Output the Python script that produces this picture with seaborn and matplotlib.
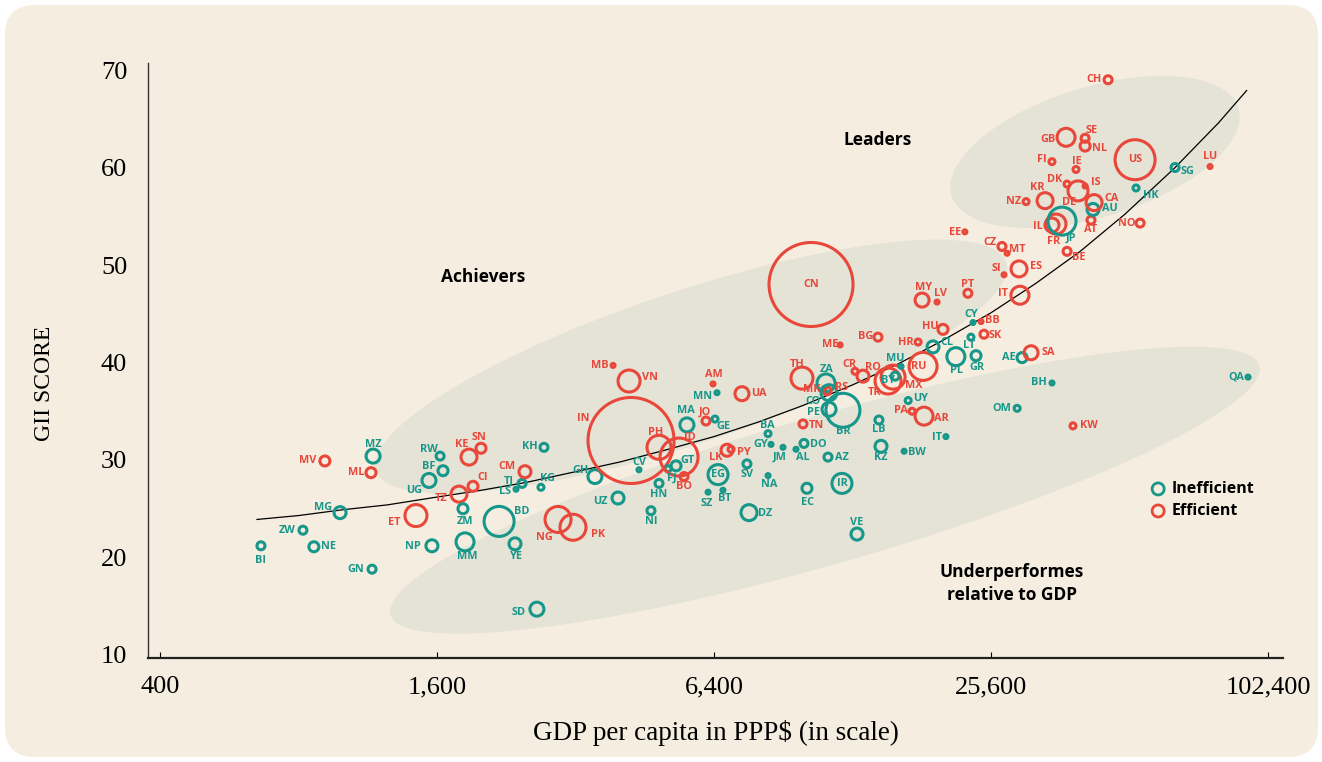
import numpy as np
import pandas as pd
import matplotlib
matplotlib.use("Agg")
import matplotlib.pyplot as plt
import seaborn as sns
from matplotlib.patches import FancyBboxPatch
from matplotlib.transforms import IdentityTransform

# ---- data: GDP per capita (PPP$), GII score, circle size, efficiency group ----
codes = ["BI", "ZW", "NE", "MV", "MG", "MZ", "ML", "GN", "ET", "UG", "RW", "BF", "NP", "TZ", "ZM",
         "MM", "KE", "CI", "SN", "BD", "YE", "LS", "TJ", "CM", "KG", "KH", "SD", "NG", "PK", "GH",
         "UZ", "MB", "VN", "IN", "CV", "NI", "PH", "HN", "FJ", "GT", "ID", "BO", "MA", "JO", "GE",
         "SZ", "AM", "MN", "EG", "BT", "LK", "PY", "UA", "SV", "DZ", "BA", "GY", "NA", "JM", "AL",
         "TH", "DO", "TN", "EC", "MK", "ZA", "RS", "CO", "PE", "AZ", "ME", "BR", "IR", "CR", "VE",
         "RO", "BG", "LB", "KZ", "TR", "MX", "BY", "MU", "BW", "UY", "PA", "HR", "MY", "RU", "AR",
         "CL", "LV", "HU", "IT", "PL", "EE", "PT", "LT", "CY", "GR", "BB", "SK", "CZ", "SI", "MT",
         "OM", "ES", "IT", "AE", "NZ", "SA", "KR", "BH", "IL", "FI", "FR", "JP", "GB", "DK", "BE",
         "KW", "IE", "DE", "IS", "SE", "NL", "AT", "AU", "CA", "CH", "US", "HK", "NO", "SG", "LU",
         "QA", "CN"]
gdp = [663, 818, 864, 913, 985, 1162, 1150, 1156, 1440, 1537, 1625, 1649, 1560, 1786, 1822,
       1841, 1878, 1916, 1994, 2183, 2364, 2376, 2449, 2485, 2692, 2733, 2638, 2932, 3160, 3527,
       3959, 3862, 4183, 4225, 4396, 4668, 4860, 4860, 5085, 5293, 5372, 5508, 5589, 6148, 6431,
       6212, 6368, 6497, 6530, 6693, 6831, 6970, 7361, 7547, 7625, 8387, 8512, 8387, 9040, 9645,
       9940, 10040, 9990, 10190, 11100, 11210, 11270, 11380, 11380, 11320, 12030, 12200, 12140, 12960, 13090,
       13490, 14540, 14610, 14760, 15290, 15680, 15840, 16320, 16570, 16910, 17240, 17770, 18130, 18220, 18310,
       19150, 19540, 20130, 20430, 21470, 22460, 22800, 23150, 23390, 23750, 24350, 24710, 27040, 27320, 27740,
       29170, 29450, 29590, 29900, 30510, 31280, 33550, 34730, 34730, 34730, 35430, 36520, 37270, 37450, 37450,
       38580, 39170, 39560, 40990, 40990, 40990, 42220, 42650, 42880, 45990, 52640, 52890, 53980, 64300, 76600,
       92640, 10400]
gii = [21.2, 22.8, 21.1, 29.9, 24.6, 30.4, 28.7, 18.8, 24.3, 27.9, 30.4, 28.9, 21.2, 26.5, 25.0,
       21.6, 30.3, 27.3, 31.2, 23.7, 21.4, 27.0, 27.6, 28.8, 27.2, 31.3, 14.7, 23.9, 23.1, 28.3,
       26.1, 39.7, 38.1, 32.0, 29.0, 24.8, 31.3, 27.6, 29.1, 29.4, 30.3, 28.3, 33.6, 34.0, 34.2,
       26.7, 37.8, 36.9, 28.5, 26.9, 31.0, 31.1, 36.8, 29.6, 24.6, 32.7, 31.6, 28.4, 31.3, 31.1,
       38.4, 31.7, 33.7, 27.1, 37.3, 37.9, 37.1, 36.9, 35.2, 30.3, 41.8, 35.1, 27.6, 39.1, 22.4,
       38.6, 42.6, 34.1, 31.4, 38.1, 38.5, 38.6, 39.6, 30.9, 36.1, 35.0, 42.1, 46.4, 39.6, 34.5,
       41.6, 46.2, 43.4, 32.4, 40.6, 53.4, 47.1, 42.6, 44.1, 40.7, 44.2, 42.9, 51.9, 49.0, 51.2,
       35.3, 49.6, 46.9, 40.5, 56.5, 41.0, 56.6, 37.9, 54.1, 60.6, 54.2, 54.5, 63.1, 58.3, 51.4,
       33.5, 59.8, 57.6, 58.1, 63.0, 62.2, 54.6, 55.7, 56.4, 69.0, 60.8, 57.9, 54.3, 60.0, 60.1,
       38.5, 48.0]
circle = [4, 4, 5, 5, 6, 7, 5, 4, 11, 7, 4, 5, 6, 8, 5,
          9, 8, 5, 5, 15, 6, 2, 4, 6, 3, 4, 7, 13, 13, 7,
          6, 2, 11, 43, 2, 4, 12, 4, 3, 5, 19, 4, 7, 4, 3,
          2, 2, 2, 10, 2, 6, 3, 7, 4, 8, 3, 2, 2, 2, 2,
          11, 4, 4, 5, 2, 9, 4, 8, 7, 4, 2, 17, 10, 3, 6,
          6, 4, 4, 6, 13, 12, 4, 2, 2, 3, 3, 3, 7, 14, 9,
          6, 2, 5, 2, 9, 2, 4, 3, 2, 5, 2, 4, 4, 2, 2,
          3, 8, 9, 5, 3, 7, 8, 2, 7, 3, 10, 14, 9, 3, 4,
          3, 3, 10, 2, 4, 5, 4, 6, 8, 4, 20, 3, 4, 4, 2,
          2, 42]
group = list("IIIEIIEIEIIIIEI"
             "IEEEIIIIEIIIEEI"
             "IEEEIIEIIIEEIEI"
             "IEIIIEEEIIIIIII"
             "EIEIEIEIIIEIIEI"
             "EEIIEEIIIIEEEEE"
             "IEEIIEEIIIEEEEE"
             "IEEIEEEIEEEIEEE"
             "EEEEEEEIEEEIEIE"
             "IE")

# fitted trend curve
trend_gdp = [650, 800, 1000, 1250, 1600, 2000, 2500, 3200, 4000, 5000, 6400, 8000,
             10000, 12800, 16000, 20000, 25600, 32000, 40000, 50000, 64000, 80000, 92000]
trend_gii = [23.9, 24.3, 24.9, 25.4, 26.2, 26.9, 27.7, 28.8, 29.8, 31.0, 32.4, 33.9,
             35.6, 37.7, 39.8, 42.2, 45.1, 48.1, 51.4, 55.2, 59.9, 64.6, 67.9]

xticks = [400, 1600, 6400, 25600, 102400]
xtick_labels = ["400", "1,600", "6,400", "25,600", "102,400"]
yticks = [10, 20, 30, 40, 50, 60, 70]

# ---- styling ----
TEAL = "#17968a"
RED = "#e8473a"
PANEL = "#f5eee0"
SHADE = "#e4e3d6"
SERIF = "Liberation Serif"
SANS = "Open Sans"

# label offsets in pixels (right, down) from circle centre
label_off = {
    "BI": (0, 15), "ZW": (-16, 0), "NE": (15, 0), "MV": (-17, 0), "MG": (-17, -5), "MZ": (0, -12),
    "ML": (-15, 0), "GN": (-16, 0), "ET": (-22, 7), "UG": (-15, 10), "RW": (-11, -7), "BF": (-14, -4),
    "NP": (-19, 1), "TZ": (-18, 4), "ZM": (2, 13), "MM": (2, 15), "KE": (-7, -13), "CI": (10, -9),
    "SN": (-2, -11), "BD": (23, -10), "YE": (1, 13), "LS": (-11, 2), "TJ": (-13, -2), "CM": (-18, -5),
    "KG": (6, -9), "KH": (-14, -1), "SD": (-18, 3), "NG": (-14, 18), "PK": (25, 7), "GH": (-14, -6),
    "UZ": (-18, 3), "MB": (-13, 0), "VN": (21, -4), "IN": (-48, -22), "CV": (0, -7), "NI": (0, 11),
    "PH": (-3, -15), "HN": (0, 11), "FJ": (4, 9), "GT": (11, -5), "ID": (11, -20), "BO": (0, 10),
    "MA": (-1, -14), "JO": (-1, -9), "GE": (8, 7), "SZ": (-1, 11), "AM": (1, -9), "MN": (-14, 4),
    "EG": (0, 0), "BT": (2, 8), "LK": (-11, 7), "PY": (13, 3), "UA": (17, 0), "SV": (0, 11),
    "DZ": (16, 1), "BA": (-1, -8), "GY": (-10, 0), "NA": (1, 9), "JM": (-3, 10), "AL": (7, 8),
    "TH": (-5, -14), "DO": (14, 1), "TN": (13, 2), "EC": (1, 14), "MK": (-12, 1), "ZA": (1, -13),
    "RS": (15, -3), "CO": (-16, 9), "PE": (-16, 3), "AZ": (14, 0), "ME": (-10, 0), "BR": (0, 21),
    "IR": (0, 0), "CR": (-6, -7), "VE": (0, -12), "RO": (10, -9), "BG": (-12, -1), "LB": (0, 9),
    "KZ": (0, 11), "TR": (-13, 11), "MX": (21, 8), "BY": (-7, 4), "MU": (-6, -8), "BW": (13, 1),
    "UY": (12, -2), "PA": (-11, -1), "HR": (-12, 0), "MY": (1, -13), "RU": (-4, 0), "AR": (17, 2),
    "CL": (14, -4), "LV": (3, -9), "HU": (-13, -3), "IT-I": (-9, 1), "PL": (1, 14), "EE": (-10, 1),
    "PT": (0, -9), "LT": (-2, 8), "CY": (-2, -8), "GR": (1, 12), "BB": (11, -1), "SK": (11, 1),
    "CZ": (-12, -4), "SI": (-8, -6), "MT": (10, -4), "OM": (-15, 0), "ES": (17, -2), "IT-E": (-17, -2),
    "AE": (-13, 0), "NZ": (-13, 0), "SA": (17, 0), "KR": (-8, -13), "BH": (-13, 0), "IL": (-14, 1),
    "FI": (-10, -2), "FR": (-2, 17), "JP": (9, 17), "GB": (-18, 2), "DK": (-12, -5), "BE": (12, 6),
    "KW": (16, 0), "IE": (1, -8), "DE": (-9, 12), "IS": (11, -4), "SE": (7, -8), "NL": (14, 2),
    "AT": (0, 9), "AU": (17, -1), "CA": (17, -4), "CH": (-14, 0), "US": (0, 0), "HK": (15, 8),
    "NO": (-13, 0), "SG": (12, 4), "LU": (0, -10), "QA": (-12, 0), "CN": (0, 0),
}

df = pd.DataFrame({"code": codes, "gdp": gdp, "gii": gii, "r": circle, "group": group})
df["s"] = (2 * df["r"] * 0.72) ** 2

fig = plt.figure(figsize=(13.22, 7.62), dpi=100)
fig.patch.set_facecolor("white")
fig.patches.append(FancyBboxPatch((5, 5), 1313, 752, boxstyle="round,pad=0,rounding_size=30",
                                  transform=IdentityTransform(), facecolor=PANEL, edgecolor="none",
                                  zorder=-10, figure=fig))

ax = fig.add_axes([148 / 1322, 104 / 762, 1135 / 1322, 595.3 / 762])
ax.set_facecolor("none")
ax.set_xscale("log", base=2)
ax.set_xlim(376.7, 110360)
ax.set_ylim(9.69, 70.75)

# shaded group regions: centre in data coords, semi-axes in pixels, angle in degrees
regions = [(43080, 61.6, 150, 65, 17), (5704, 39.6, 332, 76, 18.3), (11150, 26.9, 452, 74, 16)]
t = np.linspace(0, 2 * np.pi, 300)
for cx, cy, a, b, ang in regions:
    px, py = ax.transData.transform((cx, cy))
    th = np.deg2rad(ang)
    ex = px + a * np.cos(t) * np.cos(th) - b * np.sin(t) * np.sin(th)
    ey = py + a * np.cos(t) * np.sin(th) + b * np.sin(t) * np.cos(th)
    pts = ax.transData.inverted().transform(np.column_stack([ex, ey]))
    ax.fill(pts[:, 0], pts[:, 1], color=SHADE, lw=0, zorder=0)

sns.lineplot(x=trend_gdp, y=trend_gii, color="black", lw=0.9, ax=ax, zorder=2)

sns.scatterplot(data=df, x="gdp", y="gii", hue="group", palette={"I": TEAL, "E": RED},
                size="s", sizes=(df["s"].min(), df["s"].max()), size_norm=(df["s"].min(), df["s"].max()),
                legend=False, ax=ax, zorder=3)
pts = ax.collections[-1]
pts.set_edgecolors(pts.get_facecolors())
pts.set_facecolors("none")
pts.set_linewidths(2.2)

for _, row in df.iterrows():
    key = row["code"]
    if key == "IT":
        key = "IT-" + row["group"]
    dx, dy = label_off[key]
    ax.annotate(row["code"], (row["gdp"], row["gii"]), xytext=(dx * 0.72, -dy * 0.72),
                textcoords="offset points", ha="center", va="center", fontsize=7.8,
                fontweight="bold", family=SANS, color=TEAL if row["group"] == "I" else RED, zorder=4)

ax.text(14540, 62.8, "Leaders", ha="center", va="center", fontsize=12.5, fontweight="bold", family=SANS)
ax.text(2014, 48.8, "Achievers", ha="center", va="center", fontsize=12.5, fontweight="bold", family=SANS)
ax.text(28440, 17.3, "Underperformes\nrelative to GDP", ha="center", va="center", fontsize=12.5,
        fontweight="bold", family=SANS, linespacing=1.35)

# legend
for yy, col, lab in [(0.284, TEAL, "Inefficient"), (0.247, RED, "Efficient")]:
    ax.scatter([0.890], [yy], s=75, facecolors="none", edgecolors=col, linewidths=2.0,
               transform=ax.transAxes, zorder=5, clip_on=False)
    ax.text(0.902, yy, lab, transform=ax.transAxes, ha="left", va="center", fontsize=11.5,
            fontweight="bold", family=SANS)

ax.set_xticks(xticks)
ax.set_xticklabels(xtick_labels, family=SERIF, fontsize=19)
ax.minorticks_off()
ax.set_yticks(yticks)
ax.set_yticklabels([str(v) for v in yticks], family=SERIF, fontsize=19)
ax.tick_params(axis="y", length=0, pad=15)
ax.tick_params(axis="x", direction="in", length=4, width=0.8, pad=13)
for side in ["top", "right"]:
    ax.spines[side].set_visible(False)
ax.spines["left"].set_linewidth(1.0)
ax.spines["bottom"].set_linewidth(1.6)
ax.spines["left"].set_color("#333333")
ax.spines["bottom"].set_color("#222222")
ax.set_xlabel("")
ax.set_ylabel("")

fig.text(716 / 1322, 1 - 733 / 762, "GDP per capita in PPP$ (in scale)", ha="center", va="center",
         family=SERIF, fontsize=19.5)
fig.text(45 / 1322, 1 - 383 / 762, "GII SCORE", ha="center", va="center", rotation=90,
         family=SERIF, fontsize=17)

fig.savefig("out.png", dpi=100)
